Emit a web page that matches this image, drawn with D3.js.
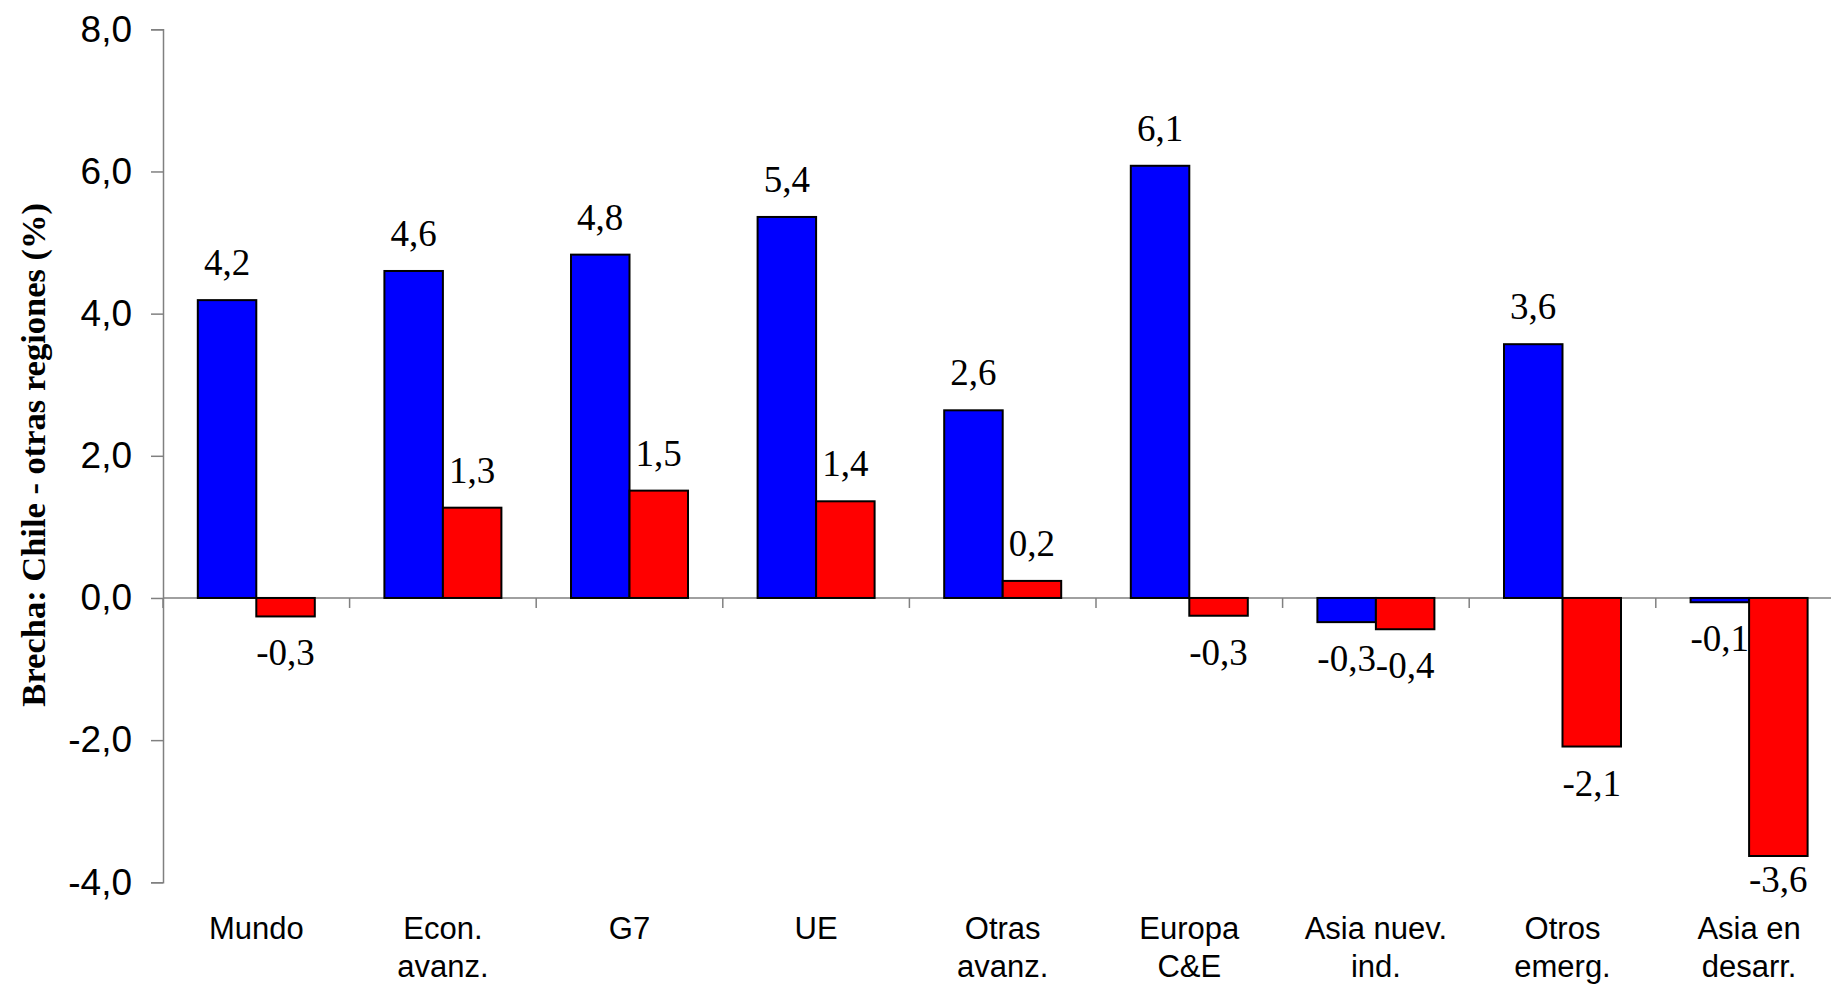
<!DOCTYPE html>
<html>
<head>
<meta charset="utf-8">
<script src="https://cdn.jsdelivr.net/npm/d3@7"></script>
<style>
  html, body { margin: 0; padding: 0; background: #fff; overflow: hidden; }
  svg { display: block; }
</style>
</head>
<body>
<svg id="chart" width="1831" height="984"></svg>
<script>
// ---- Data ----
const categories = [
  ["Mundo"],
  ["Econ.", "avanz."],
  ["G7"],
  ["UE"],
  ["Otras", "avanz."],
  ["Europa", "C&E"],
  ["Asia nuev.", "ind."],
  ["Otros", "emerg."],
  ["Asia en", "desarr."]
];
const seriesNames = ["s1", "s2"];
const seriesBlue = [4.19, 4.60, 4.83, 5.36, 2.64, 6.08, -0.34, 3.57, -0.06];
const seriesRed  = [-0.26, 1.27, 1.51, 1.36, 0.24, -0.25, -0.44, -2.09, -3.63];
const yTicks = [-4, -2, 0, 2, 4, 6, 8];
const yTitle = "Brecha: Chile - otras regiones (%)";
const colors = { s1: "#0000ff", s2: "#ff0000" };

// ---- Layout ----
const svg = d3.select("#chart");
const plotLeft = 163, plotTop = 29.3, plotBottom = 882.3, bandW = 186.6;
const plotRight = plotLeft + bandW * categories.length;

const locale = d3.formatLocale({ decimal: ",", thousands: ".", grouping: [3], currency: ["", ""], minus: "-" });
const fmt = locale.format(".1f");

const x0 = d3.scaleBand().domain(d3.range(categories.length)).range([plotLeft, plotRight]).padding(0);
const pad = bandW * 0.1865;
const x1 = d3.scaleBand().domain(seriesNames).range([pad, bandW - pad]).padding(0);
const y = d3.scaleLinear().domain([-4, 8]).range([plotBottom, plotTop]);

const axisColor = "#808080";

// Y axis
const yAxis = d3.axisLeft(y).tickValues(yTicks).tickSize(12).tickPadding(19)
  .tickFormat(d => fmt(d));
const gy = svg.append("g").attr("transform", `translate(${plotLeft},0)`).call(yAxis);
gy.select(".domain").attr("stroke", axisColor).attr("stroke-width", 1.5);
gy.selectAll(".tick line").attr("stroke", axisColor).attr("stroke-width", 1.5);
gy.selectAll(".tick text").attr("font-family", "Liberation Sans, Arial, sans-serif")
  .attr("font-size", 37).attr("fill", "#000");

// Zero line with category ticks
const gx = svg.append("g").attr("transform", `translate(0,${y(0)})`);
gx.append("line").attr("x1", plotLeft).attr("x2", plotRight).attr("y1", 0).attr("y2", 0)
  .attr("stroke", axisColor).attr("stroke-width", 1.5);
gx.selectAll("line.ct").data(d3.range(categories.length + 1)).join("line")
  .attr("class", "ct")
  .attr("x1", d => plotLeft + d * bandW).attr("x2", d => plotLeft + d * bandW)
  .attr("y1", 0).attr("y2", 10)
  .attr("stroke", axisColor).attr("stroke-width", 1.5);

// Bars
const rows = categories.map((c, i) => ({ i, vals: [
  { key: "s1", v: seriesBlue[i] }, { key: "s2", v: seriesRed[i] }
]}));

const groups = svg.append("g").selectAll("g").data(rows).join("g")
  .attr("transform", d => `translate(${x0(d.i)},0)`);

groups.selectAll("rect").data(d => d.vals).join("rect")
  .attr("x", d => x1(d.key))
  .attr("width", x1.bandwidth())
  .attr("y", d => y(Math.max(0, d.v)))
  .attr("height", d => Math.abs(y(d.v) - y(0)))
  .attr("fill", d => colors[d.key])
  .attr("stroke", "#000")
  .attr("stroke-width", 2);

groups.selectAll("text").data(d => d.vals).join("text")
  .attr("x", d => x1(d.key) + x1.bandwidth() / 2)
  .attr("y", d => d.v >= 0 ? y(d.v) - 25 : Math.min(y(d.v) + 49, y(-4) + 10))
  .attr("text-anchor", "middle")
  .attr("font-family", "Liberation Serif, Times New Roman, serif")
  .attr("font-size", 37)
  .attr("fill", "#000")
  .text(d => fmt(d.v));

// Category labels
const cl = svg.append("g").selectAll("text").data(categories).join("text")
  .attr("x", (d, i) => x0(i) + bandW / 2)
  .attr("y", 939)
  .attr("text-anchor", "middle")
  .attr("font-family", "Liberation Sans, Arial, sans-serif")
  .attr("font-size", 31)
  .attr("fill", "#000");
cl.selectAll("tspan").data(d => d).join("tspan")
  .attr("x", function() { return d3.select(this.parentNode).attr("x"); })
  .attr("dy", (d, j) => j === 0 ? 0 : 37.5)
  .text(d => d);

// Y title
svg.append("text")
  .attr("transform", `translate(45,${(plotTop + plotBottom) / 2 - 1}) rotate(-90)`)
  .attr("text-anchor", "middle")
  .attr("font-family", "Liberation Serif, Times New Roman, serif")
  .attr("font-weight", "bold")
  .attr("font-size", 34.5)
  .attr("fill", "#000")
  .text(yTitle);
</script>
</body>
</html>
